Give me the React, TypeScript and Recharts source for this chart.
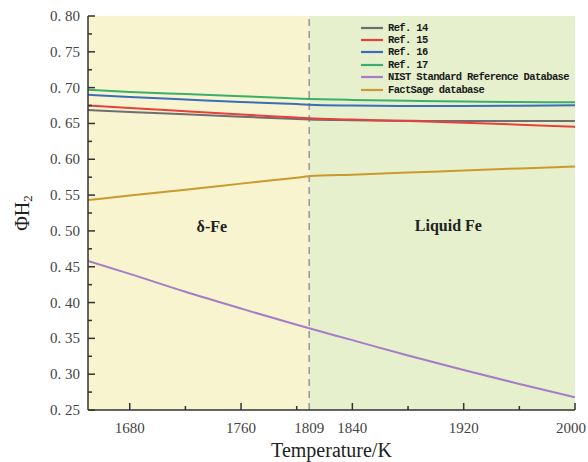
import React from 'react';
import {
  LineChart,
  Line,
  XAxis,
  YAxis,
  ReferenceArea,
  ReferenceLine,
  ReferenceDot,
  Legend,
} from 'recharts';

// Temperature grid (K)
const temperatures = [1650, 1680, 1720, 1760, 1800, 1809, 1840, 1880, 1920, 1960, 2000];

// ΦH2 for each source
const ref14 = [0.6688, 0.666, 0.6627, 0.6595, 0.6562, 0.6555, 0.6545, 0.6537, 0.6533, 0.6533, 0.6535];
const ref15 = [0.675, 0.6715, 0.667, 0.6625, 0.6582, 0.6572, 0.6555, 0.6533, 0.651, 0.6483, 0.6455];
const ref16 = [0.69, 0.687, 0.6835, 0.68, 0.677, 0.6762, 0.675, 0.6743, 0.6743, 0.6747, 0.6753];
const ref17 = [0.697, 0.694, 0.691, 0.688, 0.6848, 0.6842, 0.6828, 0.6816, 0.6806, 0.68, 0.6795];
const nist = [0.458, 0.44, 0.415, 0.3916, 0.3689, 0.364, 0.3475, 0.326, 0.3058, 0.2863, 0.2677];
const factsage = [0.543, 0.5493, 0.5576, 0.566, 0.5743, 0.5762, 0.5785, 0.5815, 0.5843, 0.5872, 0.59];

const seriesNames = [
  'Ref. 14',
  'Ref. 15',
  'Ref. 16',
  'Ref. 17',
  'NIST Standard Reference Database',
  'FactSage database',
];
const seriesColors = ['#6e6e6e', '#e8403e', '#3b6db8', '#3bae6b', '#a67cc6', '#cb9a2e'];
const seriesValues = [ref14, ref15, ref16, ref17, nist, factsage];

// Axis ticks
const xTicks = [1680, 1720, 1760, 1800, 1809, 1840, 1880, 1920, 1960, 2000];
const xLabelled = [1680, 1760, 1809, 1840, 1920, 2000];
const xMajor = [1680, 1760, 1840, 1920, 2000];
const yTicks = [
  0.25, 0.275, 0.3, 0.325, 0.35, 0.375, 0.4, 0.425, 0.45, 0.475, 0.5, 0.525,
  0.55, 0.575, 0.6, 0.625, 0.65, 0.675, 0.7, 0.725, 0.75, 0.775, 0.8,
];

const meltingPoint = 1809;
const xDomain = [1650, 2000];
const yDomain = [0.25, 0.8];

const data = temperatures.map((t, i) => {
  const row: Record<string, number> = { t };
  seriesNames.forEach((name, k) => {
    row[name] = seriesValues[k][i];
  });
  return row;
});

const serif = '"Liberation Serif", "DejaVu Serif", serif';
const axisColor = '#333';

const XTick = (props: any) => {
  const { x, y, payload } = props;
  const v = payload.value;
  const len = v === meltingPoint ? 0 : xMajor.includes(v) ? 7 : 4;
  // keep the last label inside the canvas
  const tx = Math.min(x, 571);
  return (
    <g>
      {len > 0 && <line x1={x} y1={y} x2={x} y2={y - len} stroke={axisColor} strokeWidth={1.5} />}
      {xLabelled.includes(v) && (
        <text x={tx} y={y + 23} textAnchor="middle" fontFamily={serif} fontSize={15} fill="#444">
          {v}
        </text>
      )}
    </g>
  );
};

const YTick = (props: any) => {
  const { x, y, payload } = props;
  const v = payload.value;
  const isMajor = Math.abs(Math.round(v * 20) - v * 20) < 1e-6;
  return (
    <g>
      <line x1={x} y1={y} x2={x + (isMajor ? 7 : 4)} y2={y} stroke={axisColor} strokeWidth={1.5} />
      {isMajor && (
        <text x={x - 8} y={y + 5} textAnchor="end" fontFamily={serif} fontSize={15} fill="#444">
          {v.toFixed(2).replace('.', '. ')}
        </text>
      )}
    </g>
  );
};

const LegendBox = () => (
  <div style={{ lineHeight: 0 }}>
    {seriesNames.map((name, k) => (
      <div key={name} style={{ display: 'flex', alignItems: 'center', height: 12.4 }}>
        <svg width={22} height={4} style={{ display: 'block' }}>
          <line x1={0} y1={2} x2={22} y2={2} stroke={seriesColors[k]} strokeWidth={2.2} />
        </svg>
        <span
          style={{
            marginLeft: 5,
            fontFamily: '"Liberation Mono", "DejaVu Sans Mono", monospace',
            fontWeight: 'bold',
            fontSize: 10.5,
            letterSpacing: -0.65,
            lineHeight: '12px',
            color: '#1a1a1a',
            whiteSpace: 'nowrap',
          }}
        >
          {name}
        </span>
      </div>
    ))}
  </div>
);

const YTitle = (props: any) => {
  const vb = props.viewBox || { x: 0, y: 16, width: 88, height: 394 };
  const cx = 22;
  const cy = vb.y + vb.height / 2;
  return (
    <text
      x={cx}
      y={cy}
      transform={`rotate(-90, ${cx}, ${cy})`}
      textAnchor="middle"
      dominantBaseline="central"
      fontFamily={serif}
      fontSize={20}
      fill="#222"
    >
      ΦH
      <tspan dy={5} fontSize={13}>
        2
      </tspan>
    </text>
  );
};

export default function App() {
  return (
    <div style={{ position: 'absolute', left: 0, top: 0, width: 588, height: 462, background: '#fff' }}>
      <LineChart width={588} height={462} data={data} margin={{ top: 16, right: 13, bottom: 0, left: 0 }}>
        <XAxis
          xAxisId="b"
          dataKey="t"
          type="number"
          domain={xDomain}
          ticks={xTicks}
          interval={0}
          allowDataOverflow
          height={52}
          tickSize={0}
          tickMargin={0}
          tick={<XTick />}
          axisLine={{ stroke: axisColor, strokeWidth: 1.5 }}
          label={{
            value: 'Temperature/K',
            position: 'insideBottom',
            offset: 5,
            fontFamily: serif,
            fontSize: 20,
            fill: '#222',
          }}
        />
        <XAxis
          xAxisId="top"
          orientation="top"
          dataKey="t"
          type="number"
          domain={xDomain}
          height={0}
          tick={false}
          tickLine={false}
          axisLine={{ stroke: '#555', strokeWidth: 1.5 }}
        />
        <YAxis
          yAxisId="l"
          type="number"
          domain={yDomain}
          ticks={yTicks}
          interval={0}
          allowDataOverflow
          width={88}
          tickSize={0}
          tickMargin={0}
          tick={<YTick />}
          axisLine={{ stroke: axisColor, strokeWidth: 1.5 }}
          label={<YTitle />}
        />
        <YAxis
          yAxisId="r"
          orientation="right"
          type="number"
          domain={yDomain}
          width={0}
          tick={false}
          tickLine={false}
          axisLine={{ stroke: '#444', strokeWidth: 1.5 }}
        />
        <ReferenceArea
          xAxisId="b"
          yAxisId="l"
          x1={1650}
          x2={meltingPoint}
          fill="#f8f4cf"
          fillOpacity={1}
          stroke="none"
        />
        <ReferenceArea
          xAxisId="b"
          yAxisId="l"
          x1={meltingPoint}
          x2={2000}
          fill="#e6f0cd"
          fillOpacity={1}
          stroke="none"
        />
        <ReferenceLine
          xAxisId="b"
          yAxisId="l"
          x={meltingPoint}
          stroke="#9a9a9a"
          strokeWidth={1.6}
          strokeDasharray="7 5"
        />
        <ReferenceDot
          xAxisId="b"
          yAxisId="l"
          x={1739}
          y={0.507}
          r={0}
          fill="none"
          stroke="none"
          label={{ value: 'δ-Fe', position: 'center', fontFamily: serif, fontWeight: 'bold', fontSize: 16, fill: '#222' }}
        />
        <ReferenceDot
          xAxisId="b"
          yAxisId="l"
          x={1909}
          y={0.508}
          r={0}
          fill="none"
          stroke="none"
          label={{ value: 'Liquid Fe', position: 'center', fontFamily: serif, fontWeight: 'bold', fontSize: 16, fill: '#222' }}
        />
        {seriesNames.map((name, k) => (
          <Line
            key={name}
            xAxisId="b"
            yAxisId="l"
            type="monotone"
            dataKey={name}
            name={name}
            stroke={seriesColors[k]}
            strokeWidth={2}
            dot={false}
            activeDot={false}
            isAnimationActive={false}
          />
        ))}
        <Legend
          layout="vertical"
          align="center"
          verticalAlign="middle"
          content={<LegendBox />}
          wrapperStyle={{ position: 'absolute', top: 21.5, left: 361, width: 220 }}
        />
      </LineChart>
    </div>
  );
}
